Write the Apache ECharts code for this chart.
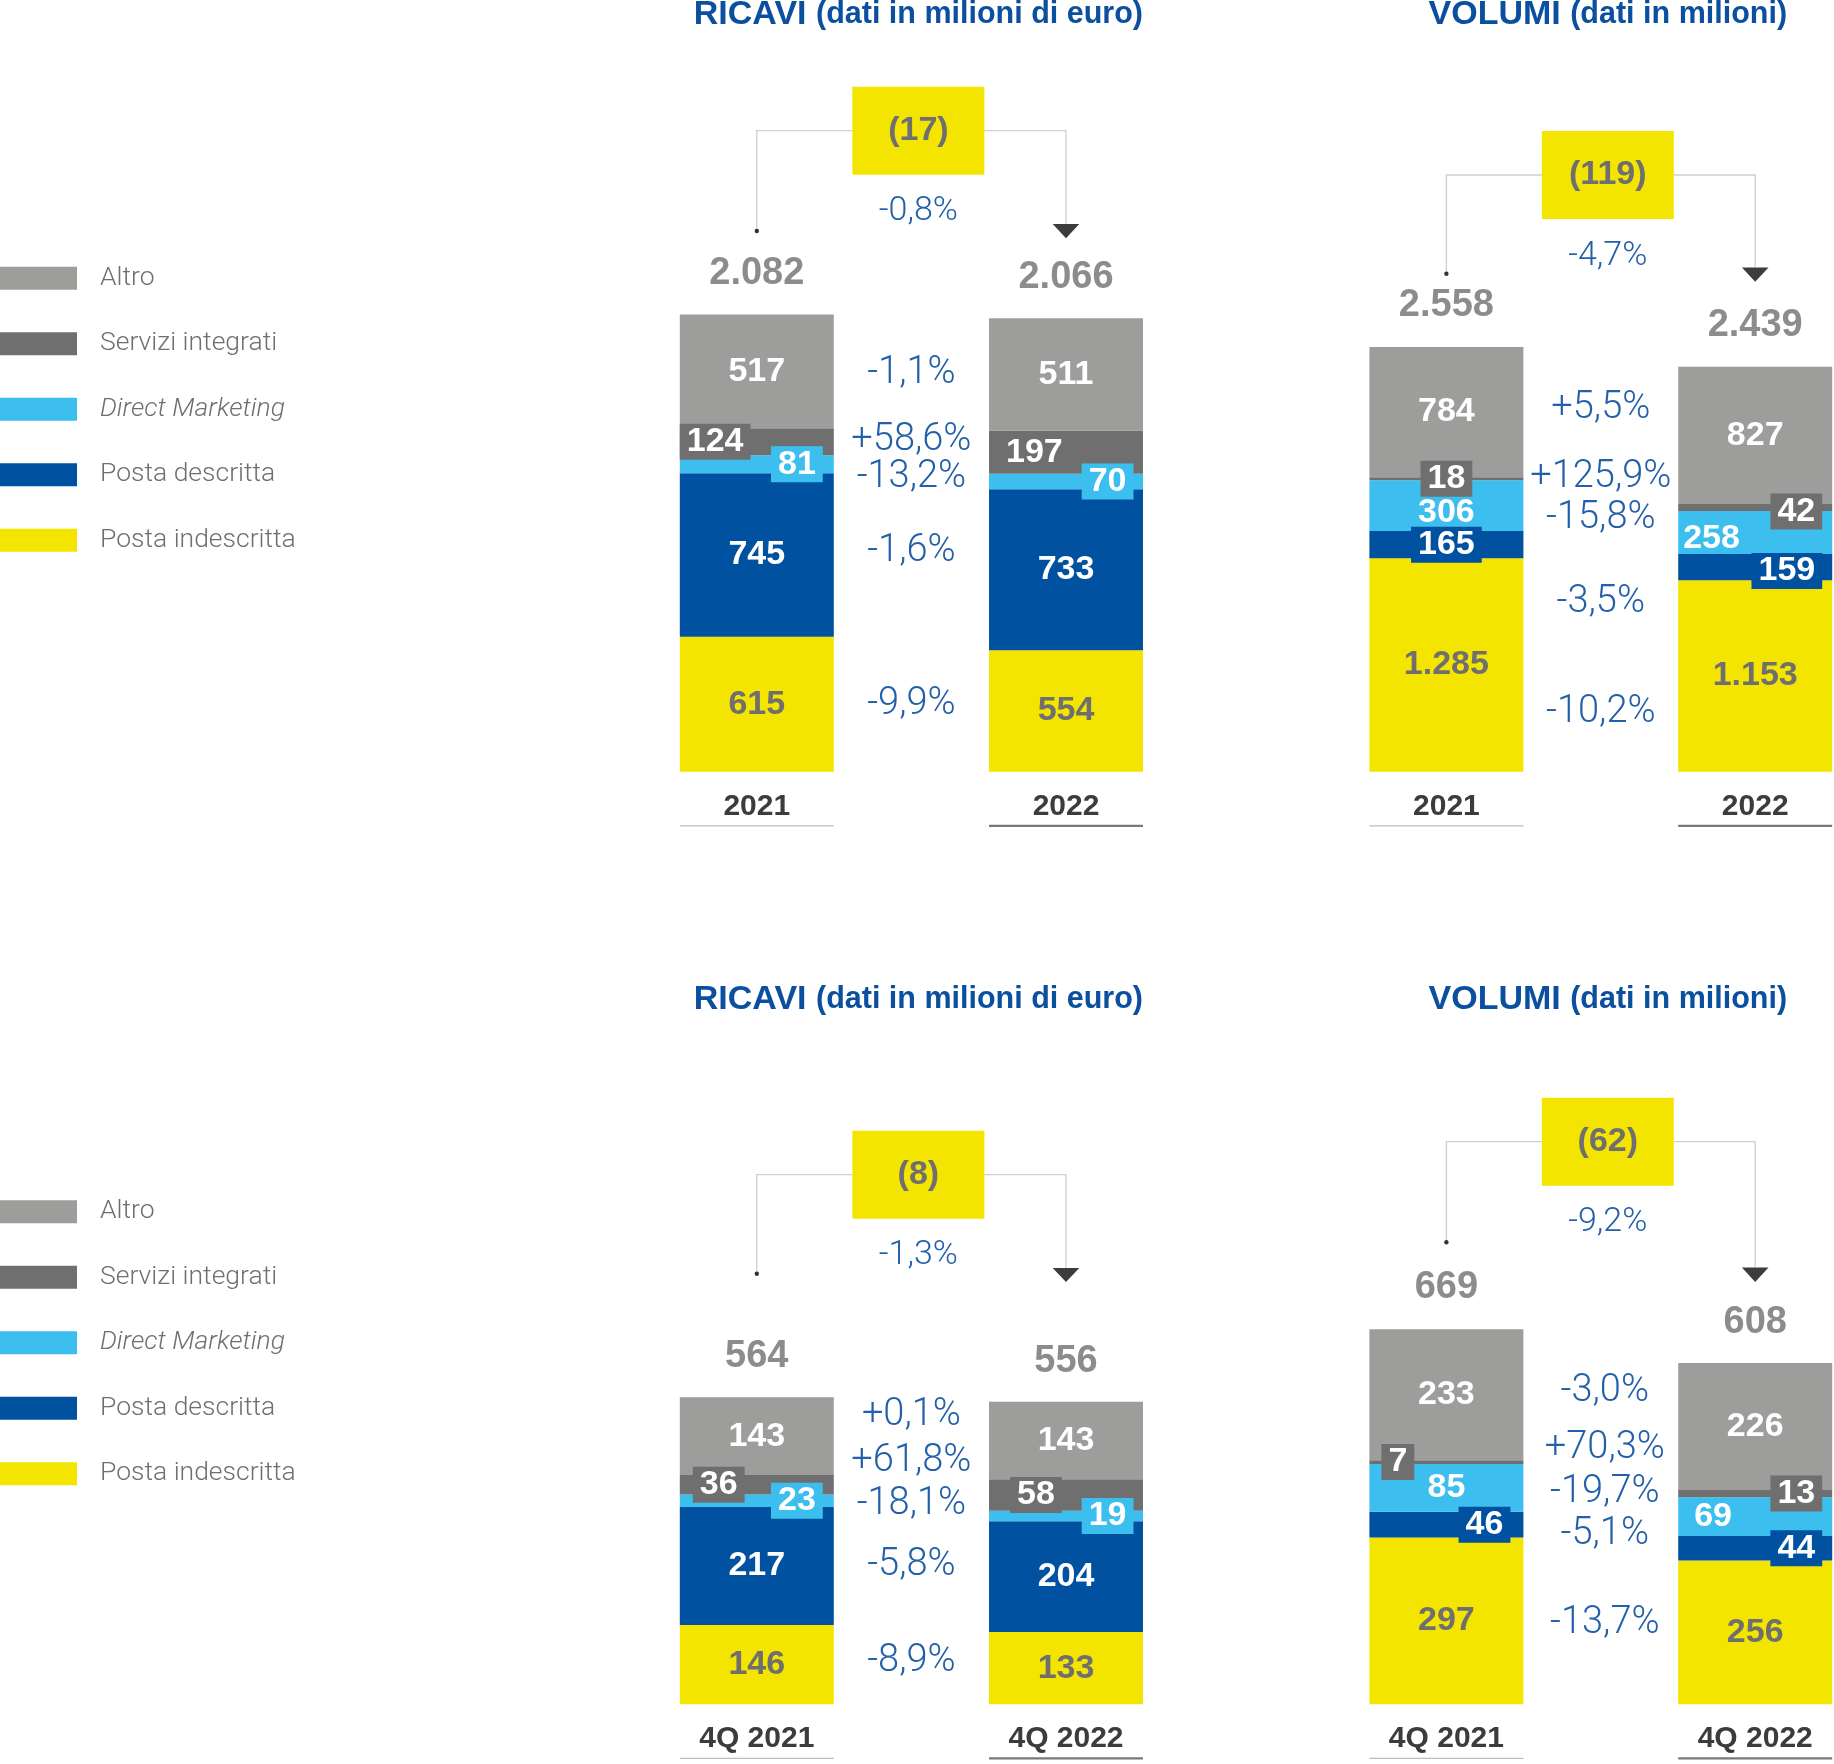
<!DOCTYPE html>
<html><head><meta charset="utf-8">
<script src="https://cdn.jsdelivr.net/npm/echarts/dist/echarts.min.js"></script>
<style>html,body{margin:0;padding:0;background:#fff;overflow:hidden;width:1834px;height:1764px}#c{width:1920px;height:1764px}</style>
</head><body><div id="c"></div>
<script>
// ---------------- DATA ----------------
const legendNames = ['Altro', 'Servizi integrati', 'Direct Marketing', 'Posta descritta', 'Posta indescritta'];

const yearCats = ['2021', '2022'];
const quarterCats = ['4Q 2021', '4Q 2022'];

// Ricavi anno (milioni di euro)
const ricaviAltro = [517, 511];
const ricaviServizi = [124, 197];
const ricaviDM = [81, 70];
const ricaviDescritta = [745, 733];
const ricaviIndescritta = [615, 554];
const ricaviTotals = [2082, 2066];
const ricaviDelta = '(17)';
const ricaviDeltaPct = '-0,8%';
const ricaviPct = ['-1,1%', '+58,6%', '-13,2%', '-1,6%', '-9,9%'];

// Volumi anno (milioni)
const volumiAltro = [784, 827];
const volumiServizi = [18, 42];
const volumiDM = [306, 258];
const volumiDescritta = [165, 159];
const volumiIndescritta = [1285, 1153];
const volumiTotals = [2558, 2439];
const volumiDelta = '(119)';
const volumiDeltaPct = '-4,7%';
const volumiPct = ['+5,5%', '+125,9%', '-15,8%', '-3,5%', '-10,2%'];

// Ricavi 4Q
const ricavi4QAltro = [143, 143];
const ricavi4QServizi = [36, 58];
const ricavi4QDM = [23, 19];
const ricavi4QDescritta = [217, 204];
const ricavi4QIndescritta = [146, 133];
const ricavi4QTotals = [564, 556];
const ricavi4QDelta = '(8)';
const ricavi4QDeltaPct = '-1,3%';
const ricavi4QPct = ['+0,1%', '+61,8%', '-18,1%', '-5,8%', '-8,9%'];

// Volumi 4Q
const volumi4QAltro = [233, 226];
const volumi4QServizi = [7, 13];
const volumi4QDM = [85, 69];
const volumi4QDescritta = [46, 44];
const volumi4QIndescritta = [297, 256];
const volumi4QTotals = [669, 608];
const volumi4QDelta = '(62)';
const volumi4QDeltaPct = '-9,2%';
const volumi4QPct = ['-3,0%', '+70,3%', '-19,7%', '-5,1%', '-13,7%'];

const titleRicavi = ['RICAVI', '(dati in milioni di euro)'];
const titleVolumi = ['VOLUMI', '(dati in milioni)'];

// ---------------- STYLE / LAYOUT ----------------
const COLORS = { 'Altro': '#9d9d9c', 'Servizi integrati': '#706f6f', 'Direct Marketing': '#3cbfef', 'Posta descritta': '#0051a0', 'Posta indescritta': '#f3e500' };
const TEXTCOL = { 'Altro': '#ffffff', 'Servizi integrati': '#ffffff', 'Direct Marketing': '#ffffff', 'Posta descritta': '#ffffff', 'Posta indescritta': '#6f6f6f' };
const BOLD = '"Liberation Sans", Arial, Helvetica, sans-serif';
const LIGHT = 'Roboto, "Liberation Sans", sans-serif';
const PCT_COLOR = '#2360aa';

const panels = [
  { cats: yearCats, series: [ricaviAltro, ricaviServizi, ricaviDM, ricaviDescritta, ricaviIndescritta], totals: ricaviTotals,
    delta: ricaviDelta, deltaPct: ricaviDeltaPct, pct: ricaviPct, title: titleRicavi },
  { cats: yearCats, series: [volumiAltro, volumiServizi, volumiDM, volumiDescritta, volumiIndescritta], totals: volumiTotals,
    delta: volumiDelta, deltaPct: volumiDeltaPct, pct: volumiPct, title: titleVolumi },
  { cats: quarterCats, series: [ricavi4QAltro, ricavi4QServizi, ricavi4QDM, ricavi4QDescritta, ricavi4QIndescritta], totals: ricavi4QTotals,
    delta: ricavi4QDelta, deltaPct: ricavi4QDeltaPct, pct: ricavi4QPct, title: titleRicavi },
  { cats: quarterCats, series: [volumi4QAltro, volumi4QServizi, volumi4QDM, volumi4QDescritta, volumi4QIndescritta], totals: volumi4QTotals,
    delta: volumi4QDelta, deltaPct: volumi4QDeltaPct, pct: volumi4QPct, title: titleVolumi }
];

// pixel layout of each panel; label placement codes: c=center, cb=center boxed,
// L/R<n>=boxed inside left/right at distance n, l<n>=unboxed inside left; @dy = vertical offset
const layout = [
  { c1: 756.8, c2: 1066, bottom: 771.8, scale: 0.2196, max: 2400, boxCY: 130.7, dotY: 231, arrowTop: 224, arrowTip: 238.3, titleY: 15, pctDx: 0,
    nudge: [1, -6, 5, -11, -3],
    place: [['c','c'], ['L0','L10'], ['R11','R9.5'], ['c','c'], ['c','c']] },
  { c1: 1446.4, c2: 1755.2, bottom: 771.8, scale: 0.1661, max: 3000, boxCY: 175, dotY: 273.7, arrowTop: 267.5, arrowTip: 281.7, titleY: 15, pctDx: 0,
    nudge: [-15, -16, 0, 47, 42],
    place: [['c','c'], ['cb','R10@4'], ['c@7','l5@6'], ['cb','R10@4'], ['c','c']] },
  { c1: 756.8, c2: 1066, bottom: 1704.3, scale: 0.5434, max: 600, boxCY: 1174.7, dotY: 1273.8, arrowTop: 1268, arrowTip: 1282, titleY: 1000, pctDx: 0,
    nudge: [-23, -28, -4, -6, -5],
    place: [['c','c'], ['L13','L21'], ['R11','R9.5'], ['c','c'], ['c','c']] },
  { c1: 1446.4, c2: 1755.2, bottom: 1704.3, scale: 0.5613, max: 700, boxCY: 1141.7, dotY: 1242.3, arrowTop: 1267.6, arrowTip: 1282, titleY: 1000, pctDx: 4,
    nudge: [-19, -29, -10, -2, -3],
    place: [['c','c'], ['L12','R10'], ['c','l16'], ['R13','R10'], ['c','c']] }
];

function fmt(n) {
  if (n >= 1000) return Math.floor(n / 1000) + '.' + String(n % 1000).padStart(3, '0');
  return String(n);
}

function mkLabel(specFull, name) {
  const parts = specFull.split('@');
  const spec = parts[0];
  const dy = parts.length > 1 ? parseFloat(parts[1]) : 0;
  const l = { show: true, fontFamily: BOLD, fontWeight: 'bold', fontSize: 34, lineHeight: 34, color: TEXTCOL[name],
    formatter: p => fmt(p.value), offset: [0, dy] };
  const kind = spec[0], d = parseFloat(spec.slice(1));
  const boxed = { backgroundColor: COLORS[name], padding: [1, 7] };
  if (spec === 'c') { l.position = 'inside'; }
  else if (spec === 'cb') { l.position = 'inside'; Object.assign(l, boxed); }
  else if (kind === 'L') { l.position = 'insideLeft'; l.distance = d; Object.assign(l, boxed); }
  else if (kind === 'R') { l.position = 'insideRight'; l.distance = d; Object.assign(l, boxed); }
  else if (kind === 'l') { l.position = 'insideLeft'; l.distance = d; }
  return l;
}

const grids = [], xAxes = [], yAxes = [], series = [];
panels.forEach((P, p) => {
  const L = layout[p];
  const band = L.c2 - L.c1;
  const h = L.max * L.scale;
  grids.push({ left: L.c1 - band / 2, width: band * 2, top: L.bottom - h, height: h, containLabel: false });
  xAxes.push({ type: 'category', gridIndex: p, data: P.cats, axisLine: { show: false }, axisTick: { show: false },
    axisLabel: { interval: 0, margin: 34.5, verticalAlign: 'middle', fontFamily: BOLD, fontWeight: 'bold', fontSize: 30, color: '#3c3c3b' } });
  yAxes.push({ type: 'value', gridIndex: p, min: 0, max: L.max, show: false, splitLine: { show: false } });
  // stack bottom -> top: indescritta, descritta, DM, servizi, altro
  for (let k = 4; k >= 0; k--) {
    const name = legendNames[k];
    series.push({
      type: 'bar', name, xAxisIndex: p, yAxisIndex: p, stack: 'st' + p, barWidth: 154,
      itemStyle: { color: COLORS[name] }, silent: true, emphasis: { disabled: true },
      data: P.series[k].map((v, j) => ({ value: v, label: mkLabel(L.place[k][j], name) }))
    });
  }
  series.push({
    type: 'scatter', name: 'tot' + p, xAxisIndex: p, yAxisIndex: p, symbolSize: 1, silent: true,
    itemStyle: { color: 'rgba(0,0,0,0)' }, z: 5,
    data: P.totals.map((t, j) => [j, t]),
    label: { show: true, position: 'inside', offset: [0, -41], formatter: q => fmt(q.value[1]),
      fontFamily: BOLD, fontWeight: 'bold', fontSize: 38, color: '#6f6f6f' }
  });
});

function legendCfg(top) {
  return {
    orient: 'vertical', left: 0, top, padding: 0, itemWidth: 77, itemHeight: 23, itemGap: 38.5, icon: 'rect', selectedMode: false,
    data: legendNames,
    formatter: n => n === 'Direct Marketing' ? '{it|' + n + '}' : '{n|' + n + '}',
    textStyle: {
      fontFamily: LIGHT, fontWeight: 300, fontSize: 26.5, color: '#706f6f', lineHeight: 23, padding: [0, 0, 0, 18],
      rich: {
        n: { fontFamily: LIGHT, fontWeight: 300, fontSize: 26.5, color: '#706f6f', lineHeight: 23 },
        it: { fontFamily: LIGHT, fontWeight: 300, fontStyle: 'italic', fontSize: 26.5, color: '#706f6f', lineHeight: 23 }
      }
    }
  };
}

const chart = echarts.init(document.getElementById('c'), null, { renderer: 'canvas' });
chart.setOption({
  animation: false,
  backgroundColor: '#ffffff',
  grid: grids, xAxis: xAxes, yAxis: yAxes, series,
  legend: [legendCfg(264.7), legendCfg(1198.2)]
});

// ---------------- ANNOTATIONS ----------------
const graphics = [];
panels.forEach((P, p) => {
  const L = layout[p];
  const px = (j, v) => chart.convertToPixel({ gridIndex: p }, [j, v]);
  const b1 = px(0, 0), b2 = px(1, 0);
  const c1x = b1[0], c2x = b2[0], baseY = b1[1];
  const mid = (c1x + c2x) / 2, boxCX = mid + 7;
  const z = 100;
  // title
  graphics.push({ type: 'text', z, style: {
    text: '{a|' + P.title[0] + ' }{b|' + P.title[1] + '}', x: boxCX, y: L.titleY, align: 'center', verticalAlign: 'middle',
    rich: { a: { fontFamily: BOLD, fontWeight: 'bold', fontSize: 34, fill: '#0b4f9f' }, b: { fontFamily: BOLD, fontWeight: 'bold', fontSize: 30.5, fill: '#0b4f9f' } }
  } });
  // connectors
  graphics.push({ type: 'polyline', z, shape: { points: [[c1x, L.dotY], [c1x, L.boxCY], [boxCX - 66, L.boxCY]] }, style: { stroke: '#cfcfcf', lineWidth: 1.3, fill: null } });
  graphics.push({ type: 'polyline', z, shape: { points: [[boxCX + 66, L.boxCY], [c2x, L.boxCY], [c2x, L.arrowTop]] }, style: { stroke: '#cfcfcf', lineWidth: 1.3, fill: null } });
  graphics.push({ type: 'circle', z, shape: { cx: c1x, cy: L.dotY, r: 2.2 }, style: { fill: '#333333' } });
  graphics.push({ type: 'polygon', z, shape: { points: [[c2x - 13.3, L.arrowTop], [c2x + 13.3, L.arrowTop], [c2x, L.arrowTip]] }, style: { fill: '#3c3c3b' } });
  // box
  graphics.push({ type: 'rect', z, shape: { x: boxCX - 66, y: L.boxCY - 44, width: 132, height: 88 }, style: { fill: '#f3e500' } });
  graphics.push({ type: 'text', z: z + 1, style: { text: P.delta, x: boxCX, y: L.boxCY, align: 'center', verticalAlign: 'middle',
    fontFamily: BOLD, fontWeight: 'bold', fontSize: 34, fill: '#6f6f6f' } });
  graphics.push({ type: 'text', z, style: { text: P.deltaPct, x: boxCX, y: L.boxCY + 44 + 37, align: 'center', verticalAlign: 'middle',
    fontFamily: LIGHT, fontWeight: 300, fontSize: 34, fill: PCT_COLOR } });
  // underlines
  graphics.push({ type: 'line', z, shape: { x1: c1x - 77, y1: baseY + 54, x2: c1x + 77, y2: baseY + 54 }, style: { stroke: '#bdbdbd', lineWidth: 1.2 } });
  graphics.push({ type: 'line', z, shape: { x1: c2x - 77, y1: baseY + 54, x2: c2x + 77, y2: baseY + 54 }, style: { stroke: '#78787a', lineWidth: 2.2 } });
  // segment change percentages
  const stackIdx = [4, 3, 2, 1, 0]; // bottom -> top
  const centers = [[], []];
  for (let j = 0; j < 2; j++) {
    let cum = 0;
    stackIdx.forEach(k => {
      const v = P.series[k][j];
      centers[j][k] = px(j, cum + v / 2)[1];
      cum += v;
    });
  }
  P.pct.forEach((txt, k) => {
    const y = (centers[0][k] + centers[1][k]) / 2 + L.nudge[k];
    graphics.push({ type: 'text', z, style: { text: txt, x: mid + L.pctDx, y, align: 'center', verticalAlign: 'middle',
      fontFamily: LIGHT, fontWeight: 300, fontSize: 38, fill: PCT_COLOR } });
  });
});
chart.setOption({ graphic: graphics });
</script>
</body></html>
